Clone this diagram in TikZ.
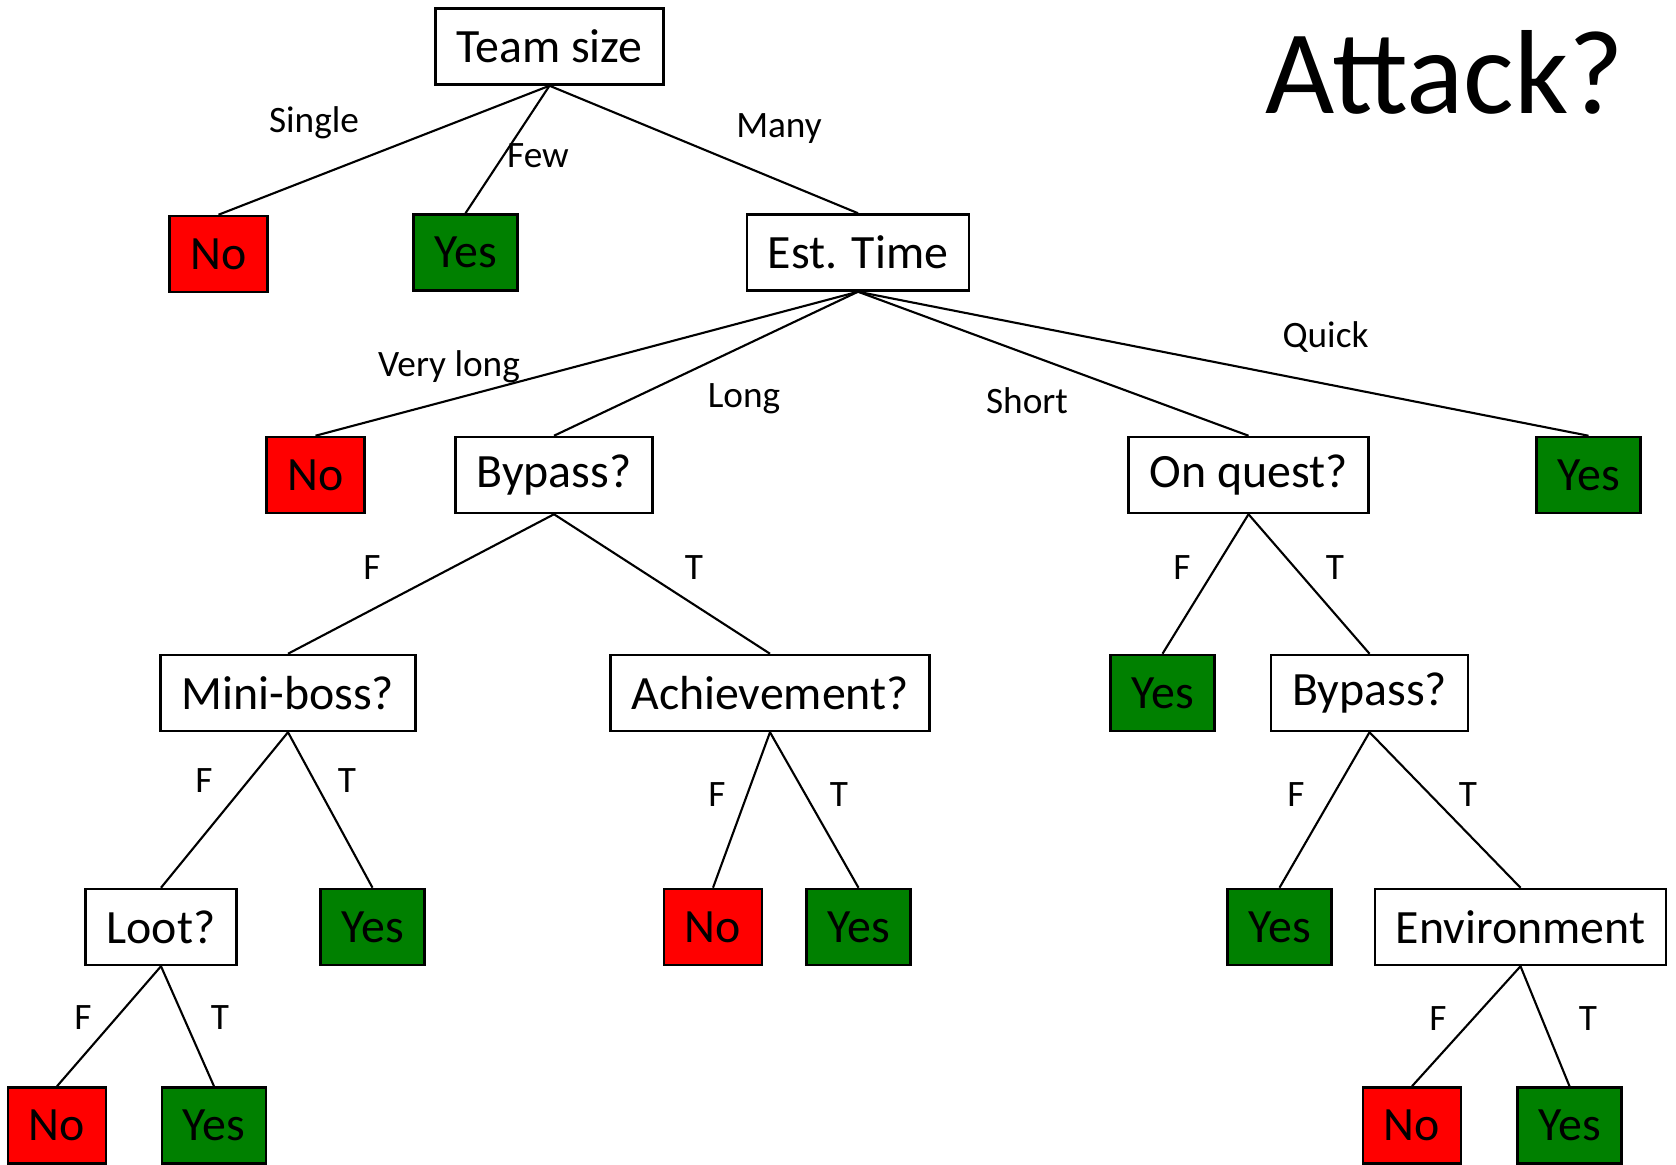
\documentclass[tikz,border=0pt]{standalone}
\usepackage{fontspec}
\setmainfont{Carlito}
\usepackage{xcolor}
\usepackage{tikz}
\definecolor{nored}{HTML}{FF0000}
\definecolor{yesgreen}{HTML}{008000}

\begin{document}
\begin{tikzpicture}[x=0.01cm,y=-0.01cm,
  ask/.style={draw=black,fill=white,line width=0.7pt,inner xsep=0.21cm,
    minimum height=0.76cm,font=\fontsize{13.6}{16}\selectfont},
  no/.style={ask,fill=nored},
  yes/.style={ask,fill=yesgreen},
  lbl/.style={font=\fontsize{10.6}{13}\selectfont,inner sep=1pt},
  edge/.style={line width=0.6pt,draw=black}]
 \useasboundingbox (0,0) rectangle (1676,1165);
 \node[font=\fontsize{34}{40}\selectfont] (title) at (1445,72) {Attack?};
 % level 0 and 1
 \node[ask] (size) at (549.5,46.5) {Team size};
 \node[no]  (no1)  at (218.5,254) {No};
 \node[yes] (yes1) at (465.5,252.5) {Yes};
 \node[ask] (time) at (858,252.5) {Est. Time};
 % level 2
 \node[no]  (no2)    at (315.5,475) {No};
 \node[ask] (bypass) at (554,475) {Bypass?};
 \node[ask] (quest)  at (1248.5,475) {On quest?};
 \node[yes] (yes2)   at (1588.5,475) {Yes};
 % level 3
 \node[ask] (boss)    at (288,693) {Mini-boss?};
 \node[ask] (achieve) at (770,693) {Achievement?};
 \node[yes] (yes3)    at (1162.5,693) {Yes};
 \node[ask] (bypassb) at (1369.5,693) {Bypass?};
 % level 4
 \node[ask] (loot) at (161,927) {Loot?};
 \node[yes] (yes4) at (372.5,927) {Yes};
 \node[no]  (no4)  at (713,927) {No};
 \node[yes] (yes5) at (858.5,927) {Yes};
 \node[yes] (yes6) at (1279.5,927) {Yes};
 \node[ask] (env)  at (1520.5,927) {Environment};
 % level 5
 \node[no]  (no5)  at (57,1125.5) {No};
 \node[yes] (yes7) at (214,1125.5) {Yes};
 \node[no]  (no6)  at (1412,1125.5) {No};
 \node[yes] (yes8) at (1569.5,1125.5) {Yes};
 % edges
 \draw[edge] (size.south)--(no1.north);
 \draw[edge] (size.south)--(yes1.north);
 \draw[edge] (size.south)--(time.north);
 \draw[edge] (time.south)--(no2.north);
 \draw[edge] (time.south)--(bypass.north);
 \draw[edge] (time.south)--(quest.north);
 \draw[edge] (time.south)--(yes2.north);
 \draw[edge] (bypass.south)--(boss.north);
 \draw[edge] (bypass.south)--(achieve.north);
 \draw[edge] (quest.south)--(yes3.north);
 \draw[edge] (quest.south)--(bypassb.north);
 \draw[edge] (boss.south)--(loot.north);
 \draw[edge] (boss.south)--(yes4.north);
 \draw[edge] (achieve.south)--(no4.north);
 \draw[edge] (achieve.south)--(yes5.north);
 \draw[edge] (bypassb.south)--(yes6.north);
 \draw[edge] (bypassb.south)--(env.north);
 \draw[edge] (loot.south)--(no5.north);
 \draw[edge] (loot.south)--(yes7.north);
 \draw[edge] (env.south)--(no6.north);
 \draw[edge] (env.south)--(yes8.north);
 % edge labels
 \node[lbl] (lsingle) at (314,123) {Single};
 \node[lbl] (lfew)    at (538,156) {Few};
 \node[lbl] (lmany)   at (779,129) {Many};
 \node[lbl] (lvlong)  at (449,367) {Very long};
 \node[lbl] (llong)   at (744,399) {Long};
 \node[lbl] (lshort)  at (1027,401) {Short};
 \node[lbl] (lquick)  at (1325.5,337) {Quick};
 \node[lbl] (f1) at (372,568) {F};
 \node[lbl] (t1) at (694,568) {T};
 \node[lbl] (f2) at (1182,568) {F};
 \node[lbl] (t2) at (1335,568) {T};
 \node[lbl] (f3) at (204,781) {F};
 \node[lbl] (t3) at (347,781) {T};
 \node[lbl] (f4) at (717,795) {F};
 \node[lbl] (t4) at (839,795) {T};
 \node[lbl] (f5) at (1296,795) {F};
 \node[lbl] (t5) at (1468,795) {T};
 \node[lbl] (f6) at (83,1018) {F};
 \node[lbl] (t6) at (220,1018) {T};
 \node[lbl] (f7) at (1438,1019) {F};
 \node[lbl] (t7) at (1588,1019) {T};
\end{tikzpicture}
\end{document}
